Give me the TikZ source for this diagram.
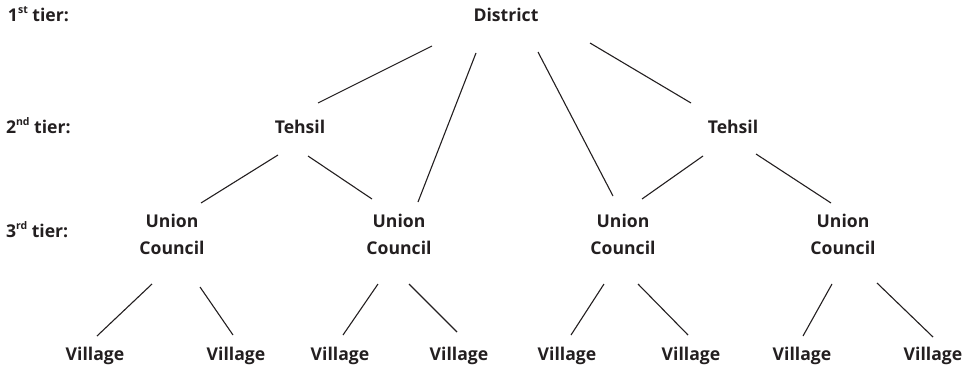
\documentclass[tikz,border=0pt]{standalone}
\usepackage{fontspec}
\setmainfont{Open Sans}
\definecolor{ink}{HTML}{231F20}
\begin{document}
\begin{tikzpicture}[x=1pt,y=-1pt,
  lbl/.style={inner sep=0pt,outer sep=0pt,text=ink,font=\fontsize{17.6}{27}\selectfont\bfseries},
  tier/.style={lbl,anchor=base west},
  unit/.style={lbl,anchor=base},
  uc/.style={lbl,anchor=center,align=center},
  link/.style={draw=ink,line width=1.1pt}]
\useasboundingbox (0,0) rectangle (970,367);
\newcommand{\sups}[1]{\raisebox{0.45em}{\fontsize{10.5}{10.5}\selectfont #1}}
% tier labels
\node[tier] (t1) at (8,21) {1\sups{st} tier:};
\node[tier] (t2) at (6,133) {2\sups{nd} tier:};
\node[tier] (t3) at (6,237) {3\sups{rd} tier:};
% nodes
\node[unit] (dist) at (506,21) {District};
\node[unit] (teh1) at (300,133) {Tehsil};
\node[unit] (teh2) at (733,133) {Tehsil};
\node[uc] (uc1) at (172,234) {Union\\Council};
\node[uc] (uc2) at (399,234) {Union\\Council};
\node[uc] (uc3) at (623,234) {Union\\Council};
\node[uc] (uc4) at (843,234) {Union\\Council};
\node[unit] (v1) at (95,360) {Village};
\node[unit] (v2) at (236,360) {Village};
\node[unit] (v3) at (340,360) {Village};
\node[unit] (v4) at (459,360) {Village};
\node[unit] (v5) at (567,360) {Village};
\node[unit] (v6) at (691,360) {Village};
\node[unit] (v7) at (802,360) {Village};
\node[unit] (v8) at (933,360) {Village};
% connectors
\draw[link] ([shift={(-74,25)}]dist.base) -- ([shift={(18,-30)}]teh1.base);
\draw[link] ([shift={(-30,32)}]dist.base) -- ([shift={(19,-32)}]uc2.center);
\draw[link] ([shift={(32,31)}]dist.base) -- ([shift={(-10,-38)}]uc3.center);
\draw[link] ([shift={(84,22)}]dist.base) -- ([shift={(-42,-30)}]teh2.base);
\draw[link] ([shift={(-22,22)}]teh1.base) -- ([shift={(29,-31)}]uc1.center);
\draw[link] ([shift={(8,23)}]teh1.base) -- ([shift={(-27,-35)}]uc2.center);
\draw[link] ([shift={(-30,23)}]teh2.base) -- ([shift={(19,-35)}]uc3.center);
\draw[link] ([shift={(23,21)}]teh2.base) -- ([shift={(-12,-31)}]uc4.center);
\draw[link] ([shift={(-20,50)}]uc1.center) -- ([shift={(2,-24)}]v1.base);
\draw[link] ([shift={(28,53)}]uc1.center) -- ([shift={(-3,-25)}]v2.base);
\draw[link] ([shift={(-21,50)}]uc2.center) -- ([shift={(3,-25)}]v3.base);
\draw[link] ([shift={(10,50)}]uc2.center) -- ([shift={(-2,-28)}]v4.base);
\draw[link] ([shift={(-19,50)}]uc3.center) -- ([shift={(4,-25)}]v5.base);
\draw[link] ([shift={(15,50)}]uc3.center) -- ([shift={(-3,-25)}]v6.base);
\draw[link] ([shift={(-11,50)}]uc4.center) -- ([shift={(1,-24)}]v7.base);
\draw[link] ([shift={(34,49)}]uc4.center) -- ([shift={(0,-23)}]v8.base);
\end{tikzpicture}
\end{document}
